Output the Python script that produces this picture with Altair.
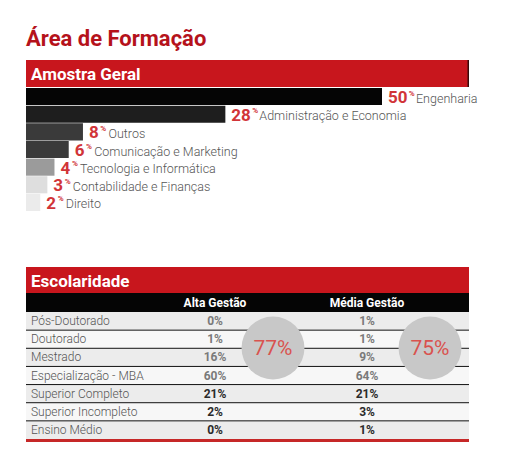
import altair as alt
import pandas as pd

# ---------------- data ----------------
areas = ["Engenharia", "Administração e Economia", "Outros", "Comunicação e Marketing",
         "Tecnologia e Informática", "Contabilidade e Finanças", "Direito"]
area_pct = [50, 28, 8, 6, 4, 3, 2]
area_colors = ["#050505", "#1e1e1e", "#3a3a3a", "#3a3a3a", "#9b9b9b", "#dedede", "#ebebeb"]

escol = ["Pós-Doutorado", "Doutorado", "Mestrado", "Especialização - MBA",
         "Superior Completo", "Superior Incompleto", "Ensino Médio"]
alta = [0, 1, 16, 60, 21, 2, 0]
media = [1, 1, 9, 64, 21, 3, 1]
groups = ["Alta Gestão", "Média Gestão"]
totals = [77, 75]

title_text = "Área de Formação"
sec1_text = "Amostra Geral"
sec2_text = "Escolaridade"

# ---------------- style ----------------
W, H = 508, 470
L, R = 26, 469
RED = "#c8161d"
TITLE_RED = "#b5121b"
NUM_RED = "#d13438"
FONT = "Roboto"

# ---------------- tables ----------------
bars_df = pd.DataFrame({"area": areas, "pct": area_pct})
bars_df["nd"] = bars_df["pct"].astype(str).str.len()
bars_df["lbl"] = bars_df["pct"].astype(str)

tbl_df = pd.DataFrame({"row": escol, "i": list(range(len(escol)))})
tbl_df["par"] = tbl_df["i"] % 2

long_rows = []
for i, r in enumerate(escol):
    for g, vals in zip(groups, [alta, media]):
        long_rows.append({"row": r, "i": i, "grp": g, "v": f"{vals[i]}%"})
long_df = pd.DataFrame(long_rows)

circ_df = pd.DataFrame({"grp": groups, "tot": [f"{t}%" for t in totals]})
one = pd.DataFrame({"k": [0]})

# ---------------- scales ----------------
xs = alt.Scale(domain=[0, 100], range=[L, L + 712])
ys = alt.Scale(domain=areas, range=[88, 211], paddingInner=0.03, paddingOuter=0)
rs = alt.Scale(domain=escol, range=[312, 439], paddingInner=0, paddingOuter=0)
gs = alt.Scale(type="point", domain=groups, range=[215, 367], padding=0)
cs = alt.Scale(type="point", domain=groups, range=[273, 430], padding=0)


def label(text, x, y, **kw):
    return alt.Chart(pd.DataFrame({"t": [text]})).mark_text(
        font=FONT, align="left", baseline="alphabetic", **kw).encode(
        x=alt.value(x), y=alt.value(y), text="t:N")


def box(x1, x2, y1, y2, color):
    return alt.Chart(one).mark_rect(color=color).encode(
        x=alt.value(x1), x2=alt.value(x2), y=alt.value(y1), y2=alt.value(y2))


title = label(title_text, 26, 46, fontSize=22, fontWeight="bold", color=TITLE_RED)
hdr1 = box(L, R, 60, 87, RED)
hdr1_edge = box(R - 1.5, R, 60, 87, "#3a0a0a")
hdr1_t = label(sec1_text, 31, 80, fontSize=17, fontWeight="bold", color="white")

bbase = alt.Chart(bars_df)
Y_A = alt.Y("area:N", scale=ys, axis=None, sort=areas)
bars = bbase.mark_bar().encode(
    x=alt.X("pct:Q", scale=xs, axis=None),
    y=Y_A,
    color=alt.Color("area:N", scale=alt.Scale(domain=areas, range=area_colors), legend=None),
)
nums = bbase.mark_text(align="left", baseline="alphabetic", dx=6, dy=6.5, font=FONT,
                       fontWeight="bold", fontSize=17, color=NUM_RED).encode(
    x=alt.X("pct:Q", scale=xs, axis=None), y=Y_A, text="lbl:N")
pcts = bbase.transform_calculate(px="datum.pct + datum.nd * 9.4 / 7.12").mark_text(
    align="left", baseline="alphabetic", dx=8, dy=-1, font=FONT, fontWeight="bold",
    fontSize=8, color=NUM_RED).encode(
    x=alt.X("px:Q", scale=xs, axis=None), y=Y_A, text=alt.value("%"))
names = bbase.transform_calculate(nx="datum.pct + (datum.nd * 8.5 + 9) / 7.12").mark_text(
    align="left", baseline="alphabetic", dx=8, dy=6, font=FONT, fontWeight=300,
    fontSize=12.5, color="#555555").encode(
    x=alt.X("nx:Q", scale=xs, axis=None), y=Y_A, text="area:N")

hdr2 = box(L, R, 267, 293, RED)
hdr2_t = label(sec2_text, 31, 287, fontSize=17, fontWeight="bold", color="white")
hdr3 = box(L, R, 293, 312, "#050505")
grp_t = alt.Chart(circ_df).mark_text(font=FONT, fontWeight="bold", fontSize=12,
                                     color="white", baseline="middle").encode(
    x=alt.X("grp:N", scale=gs, axis=None), y=alt.value(303), text="grp:N")

tbase = alt.Chart(tbl_df)
Y_R = alt.Y("row:N", scale=rs, axis=None, sort=escol)
rows_bg = tbase.mark_rect().encode(
    x=alt.value(L), x2=alt.value(R), y=Y_R,
    color=alt.Color("par:N", scale=alt.Scale(domain=[0, 1], range=["#ececec", "#f7f7f7"]), legend=None))
seps = tbase.transform_filter("datum.i < 6").mark_rule(color="#111111", strokeWidth=1).encode(
    x=alt.value(L), x2=alt.value(R), y=alt.Y("row:N", scale=rs, axis=None, sort=escol, bandPosition=1))
row_t = tbase.mark_text(font=FONT, fontWeight=300, fontSize=12, color="#555555",
                        align="left", baseline="middle").encode(
    x=alt.value(31), y=Y_R, text="row:N")
vals_t = alt.Chart(long_df).mark_text(font=FONT, fontWeight="bold", fontSize=12,
                                      baseline="middle").encode(
    x=alt.X("grp:N", scale=gs, axis=None), y=Y_R, text="v:N",
    color=alt.condition("datum.i < 4", alt.value("#7a7a7a"), alt.value("#2a2a2a")))

circles = alt.Chart(circ_df).mark_circle(size=3960, color="#c8c8c8", opacity=1).encode(
    x=alt.X("grp:N", scale=cs, axis=None), y=alt.value(348))
circ_t = alt.Chart(circ_df).mark_text(font=FONT, fontSize=21, color="#d9534f",
                                      baseline="middle").encode(
    x=alt.X("grp:N", scale=cs, axis=None), y=alt.value(349), text="tot:N")

bottom = box(L, R, 439, 442, "#c62828")

chart = alt.layer(
    title, hdr1, hdr1_edge, hdr1_t, bars, nums, pcts, names,
    hdr2, hdr2_t, hdr3, grp_t, rows_bg, seps, row_t, vals_t, circles, circ_t, bottom,
).resolve_scale(x="independent", y="independent", color="independent").properties(
    width=W, height=H, padding=0, autosize=alt.AutoSizeParams(type="none"), background="white"
).configure_view(stroke=None)

chart.save("out.html", embed_options={"renderer": "svg", "actions": False})
